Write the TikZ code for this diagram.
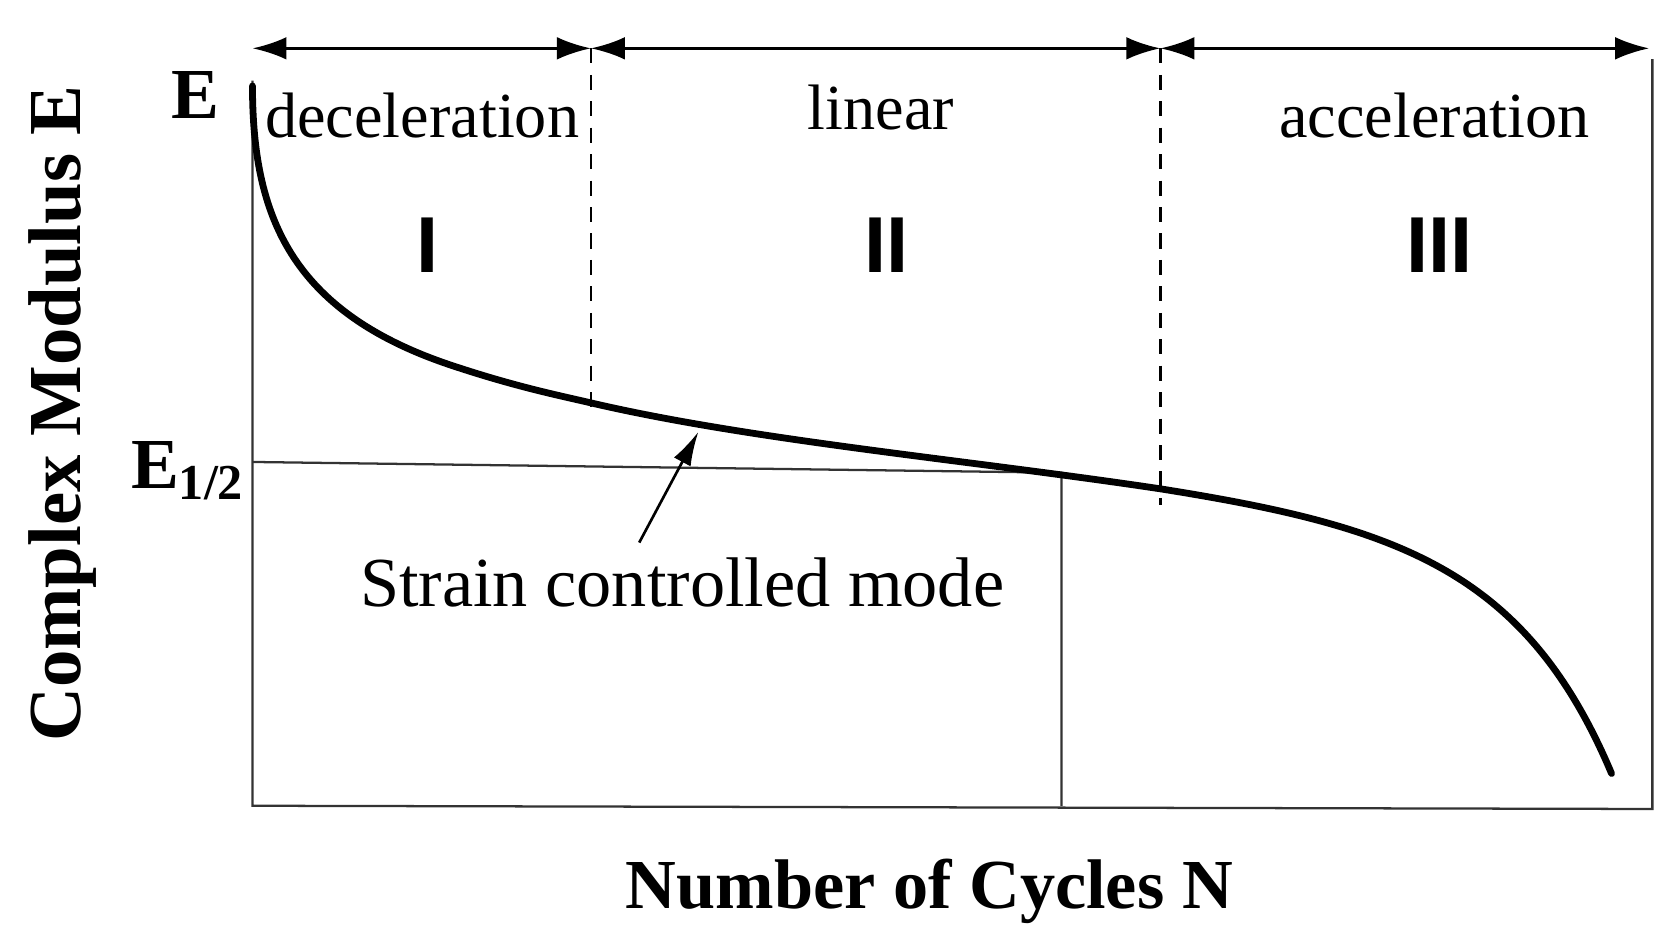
\documentclass[tikz,border=0pt]{standalone}
\usepackage{fontspec}
\setmainfont{Liberation Serif}
\newfontfamily\romsans{Liberation Sans}
\usetikzlibrary{arrows.meta}
\begin{document}
\begin{tikzpicture}[x=0.01cm,y=-0.01cm,
  ax/.style={line width=0.6pt,black!80},
  dim/.style={line width=0.8pt,{Latex[length=9pt,width=6pt]}-{Latex[length=9pt,width=6pt]}},
  dsh/.style={line width=0.7pt,dashed,dash pattern=on 4pt off 3pt},
  lbl/.style={font=\fontsize{17}{20}\selectfont},
  rom/.style={font=\romsans\bfseries\fontsize{21}{24}\selectfont},
  bl/.style={font=\bfseries\fontsize{19}{22}\selectfont}]
\useasboundingbox (0,0) rectangle (1560,877);
\coordinate (o) at (235,750);
\coordinate (tl) at (235,75);
\coordinate (br) at (1538,753);
\coordinate (tr) at (1538,55);
\draw[ax] (tl) -- (o) -- (br) -- (tr);
\coordinate (a0) at (235,45); \coordinate (a1) at (550,45);
\coordinate (a2) at (1080,45); \coordinate (a3) at (1535,45);
\draw[dim] (a0) -- (a1);
\draw[dim] (a1) -- (a2);
\draw[dim] (a2) -- (a3);
\coordinate (d1) at (550,383); \coordinate (d2) at (1080,470);
\draw[dsh] (a1) -- (d1);
\draw[dsh] (a2) -- (d2);
\coordinate (h0) at (235,430); \coordinate (h1) at (988,440); \coordinate (h2) at (988,750);
\draw[ax] (h0) -- (h1) -- (h2);
\draw[line width=1.8pt,line cap=round] (235,80) .. controls (235,200) and (270,290) .. (420,340)
  .. controls (480,360) and (520,368) .. (550,375)
  .. controls (700,410) and (900,428) .. (1080,455)
  .. controls (1300,490) and (1420,530) .. (1500,720);
\node[lbl] (dec) at (393,108) {deceleration};
\node[lbl] (lin) at (820,100) {linear};
\node[lbl] (acc) at (1335,108) {acceleration};
\node[rom] (r1) at (398,228) {I};
\node[rom] (r2) at (825,228) {II};
\node[rom] (r3) at (1340,228) {III};
\node[bl] (e) at (182,88) {E};
\node[bl] (eh) at (175,438) {E\textsubscript{1/2}};
\node[font=\fontsize{18.6}{22}\selectfont] (scm) at (635,542) {Strain controlled mode};
\coordinate (tip) at (650,402);
\draw[line width=0.7pt,-{Latex[length=9pt,width=5pt]}] (595,505) -- (tip);
\node[rotate=90,font=\bfseries\fontsize{19.8}{24}\selectfont] (yl) at (58,385) {Complex Modulus E};
\node[font=\bfseries\fontsize{18.6}{22}\selectfont] (xl) at (865,830) {Number of Cycles N};
\end{tikzpicture}
\end{document}
